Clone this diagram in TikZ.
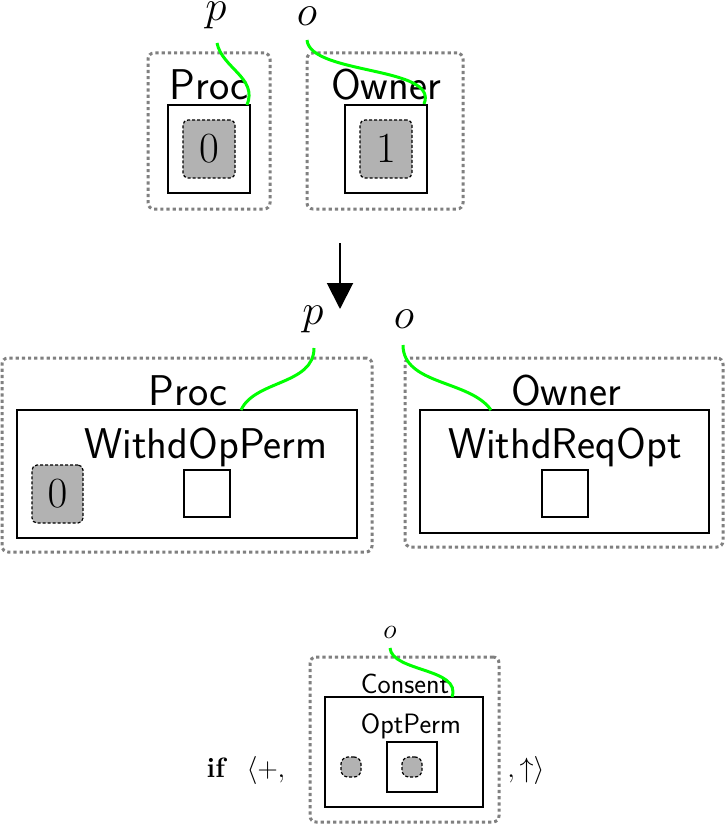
\RequirePackage{fix-cm}
\documentclass[tikz,border=0pt]{standalone}
\usepackage{fontspec}
\usetikzlibrary{arrows.meta}
\begin{document}
\begin{tikzpicture}[x=1pt,y=-1pt,
  dotbox/.style={draw=gray,line width=3pt,dash pattern=on 3.2pt off 3pt,rounded corners=6pt,inner sep=0pt},
  inbox/.style={draw=black,line width=1.3pt,inner sep=0pt},
  gbox/.style={draw=black,fill=black!30,dash pattern=on 3pt off 2pt,line width=1.2pt,rounded corners=5pt,inner sep=0pt},
  gdot/.style={draw=black,fill=black!30,dash pattern=on 3pt off 2pt,line width=1.2pt,rounded corners=7pt,inner sep=0pt,minimum size=20pt},
  wire/.style={draw=green,line width=3pt},
  big/.style={font=\fontsize{43}{50}\selectfont,inner sep=0pt},
  bigsf/.style={font=\fontsize{43}{50}\selectfont\sffamily,inner sep=0pt},
  small/.style={font=\fontsize{28}{33}\selectfont,inner sep=0pt},
  smallsf/.style={font=\fontsize{28}{33}\selectfont\sffamily,inner sep=0pt}]
\useasboundingbox (0,0) rectangle (727,824);
% ---------- top ----------
\node[dotbox,minimum width=122pt,minimum height=156pt] (tdL) at (209,131) {};
\node[dotbox,minimum width=156pt,minimum height=156pt] (tdR) at (385,131) {};
\node[inbox,minimum width=82pt,minimum height=88pt] (tiL) at (209,149) {};
\node[inbox,minimum width=82pt,minimum height=88pt] (tiR) at (386,149) {};
\node[gbox,minimum width=52pt,minimum height=58pt,big] (tgL) at (209,149) {$0$};
\node[gbox,minimum width=52pt,minimum height=58pt,big] (tgR) at (386,149) {$1$};
\node[bigsf,anchor=base] (tProc) at (209,100) {Proc};
\node[bigsf,anchor=base] (tOwner) at (386,100) {Owner};
\node[big,anchor=base] (tp) at (216,21) {$p$};
\node[big,anchor=base] (to) at (307,26) {$o$};
\coordinate (tps) at (217,43);
\coordinate (tos) at (307,40);
\coordinate (tpe) at (247,105);
\coordinate (toe) at (424,104);
\draw[wire] (tps) .. controls (222,68) and (258,78) .. (tpe);
\draw[wire] (tos) .. controls (310,75) and (440,66) .. (toe);
% ---------- arrow ----------
\coordinate (a1) at (340,243);
\coordinate (a2) at (340,309);
\draw[line width=2pt,-{Triangle[length=26pt,width=26pt]}] (a1) -- (a2);
% ---------- middle ----------
\node[dotbox,minimum width=370pt,minimum height=194pt] (mdL) at (187,455) {};
\node[dotbox,minimum width=318pt,minimum height=189pt] (mdR) at (564,452.5) {};
\node[inbox,minimum width=340pt,minimum height=128pt] (miL) at (187,474) {};
\node[inbox,minimum width=289pt,minimum height=123pt] (miR) at (564.5,471.5) {};
\node[bigsf,anchor=base] (mProc) at (188,405) {Proc};
\node[bigsf,anchor=base] (mOwner) at (566,405) {Owner};
\node[bigsf,anchor=base] (mWO) at (206,458) {WithdOpPerm};
\node[bigsf,anchor=base] (mWR) at (565,458) {WithdReqOpt};
\node[gbox,minimum width=51pt,minimum height=58pt,big] (mg) at (57.5,494) {$0$};
\node[inbox,minimum width=46pt,minimum height=47pt] (msL) at (207,493.5) {};
\node[inbox,minimum width=46pt,minimum height=47pt] (msR) at (565,493.5) {};
\node[big,anchor=base] (mp) at (313,324) {$p$};
\node[big,anchor=base] (mo) at (404,328) {$o$};
\coordinate (mps) at (314,348);
\coordinate (mos) at (403,345);
\coordinate (mpe) at (241,410);
\coordinate (moe) at (491,410);
\draw[wire] (mps) .. controls (314,385) and (255,380) .. (mpe);
\draw[wire] (mos) .. controls (403,385) and (470,380) .. (moe);
% ---------- bottom ----------
\node[dotbox,minimum width=189pt,minimum height=165pt] (bd) at (404.5,739.5) {};
\node[inbox,minimum width=158pt,minimum height=110pt] (bi) at (404,752) {};
\node[smallsf,anchor=base] (bCons) at (405,693) {Consent};
\node[smallsf,anchor=base] (bOpt) at (411,733) {OptPerm};
\node[inbox,minimum width=50pt,minimum height=50pt] (bs) at (412,767) {};
\node[gdot] (bc1) at (351,767) {};
\node[gdot] (bc2) at (412,767) {};
\node[small,anchor=base] (bo) at (390,638) {$o$};
\coordinate (bos) at (390,648);
\coordinate (boe) at (452,697);
\draw[wire] (bos) .. controls (392,672) and (462,668) .. (boe);
\node[small,anchor=base] (bif) at (217,777) {\textbf{if}};
\node[small,anchor=base] (blt) at (266,777) {$\langle +,$};
\node[small,anchor=base] (brt) at (526,777) {$,\uparrow\rangle$};
\end{tikzpicture}
\end{document}
